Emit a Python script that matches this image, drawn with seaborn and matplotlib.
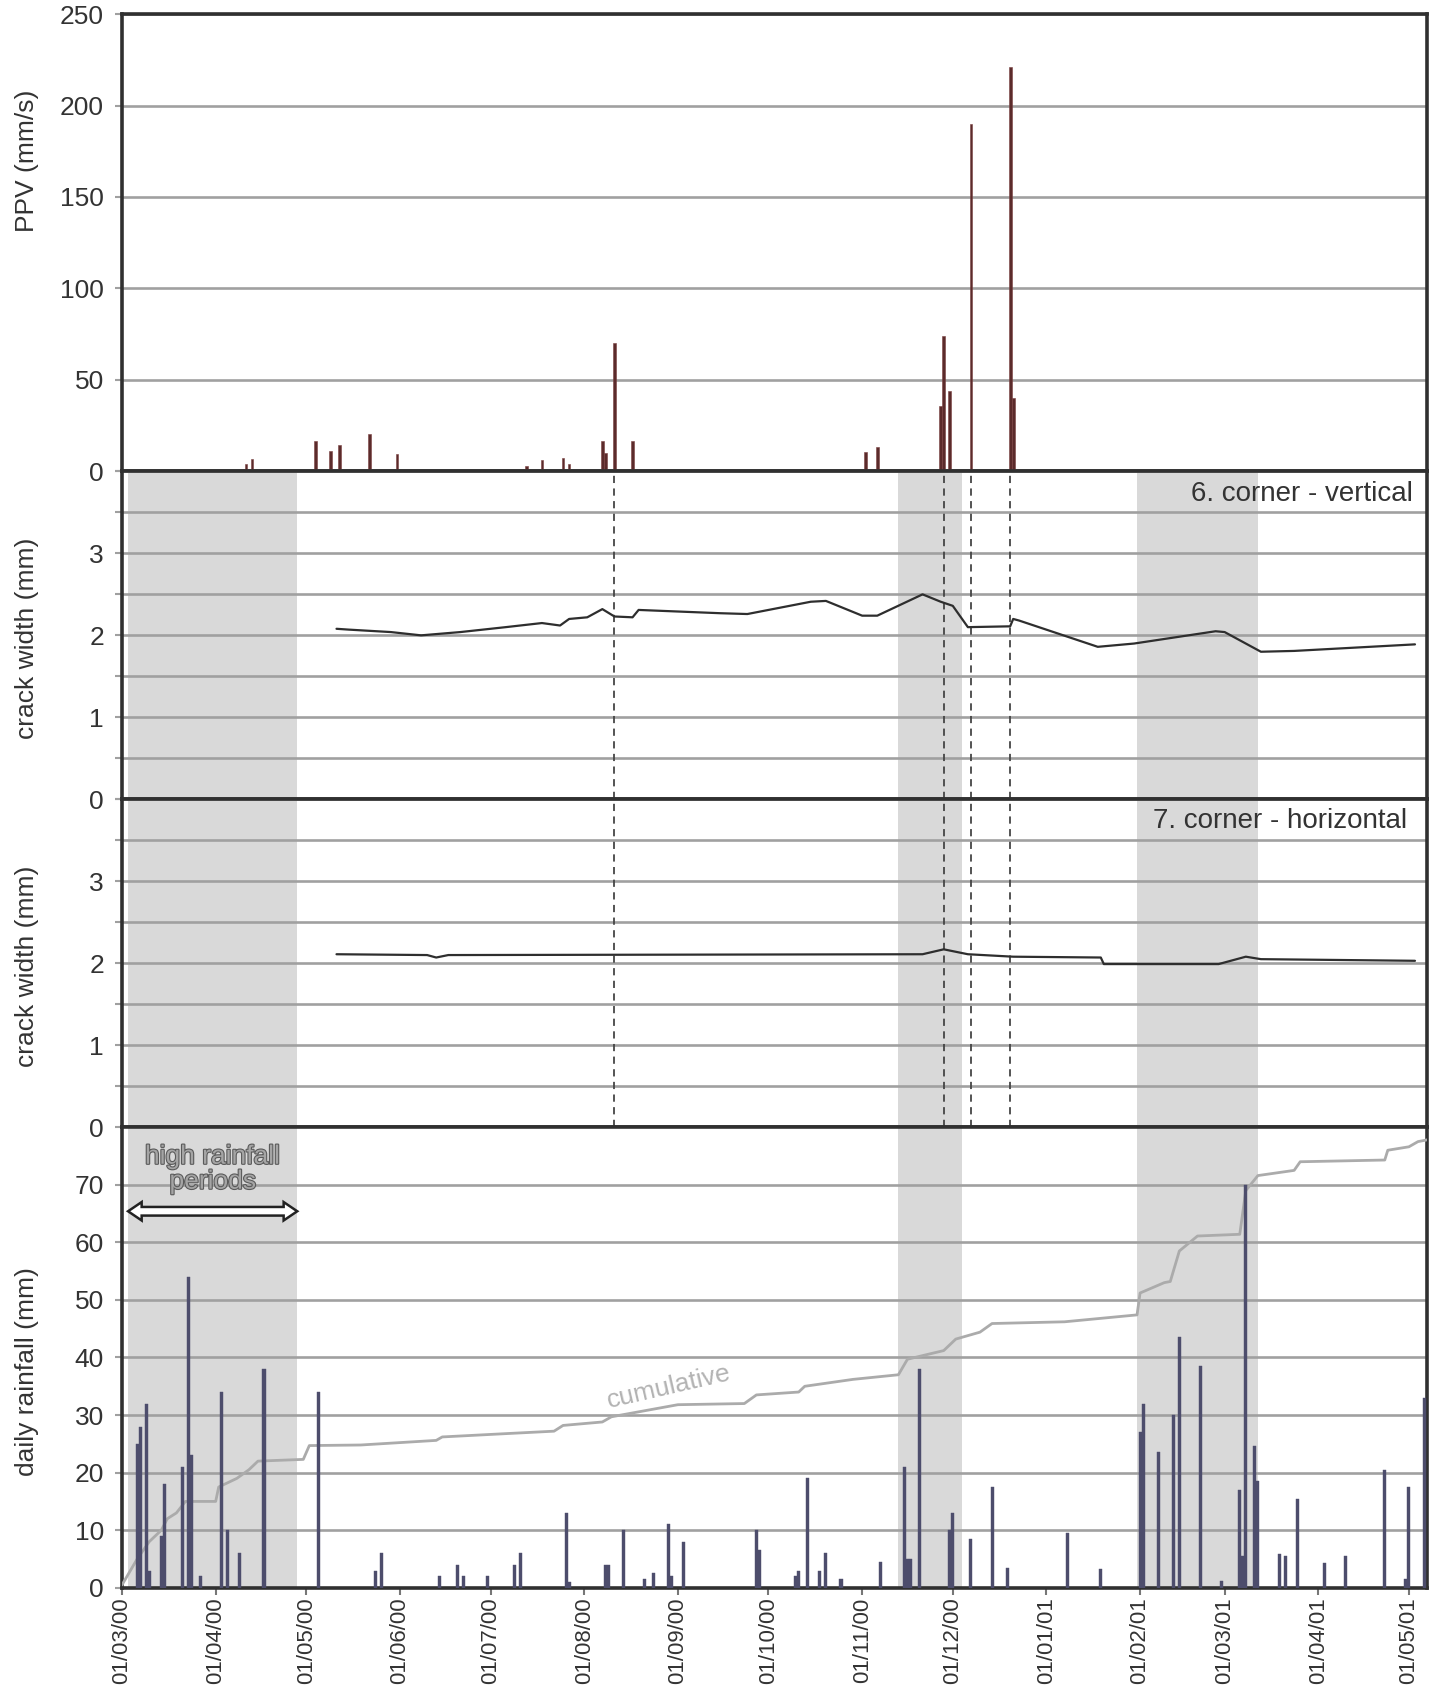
import matplotlib
matplotlib.use("Agg")
import matplotlib.pyplot as plt
import matplotlib.dates as mdates
import matplotlib.patheffects as pe
from matplotlib.patches import Polygon
from matplotlib.ticker import MultipleLocator
import pandas as pd
import seaborn as sns

# ---------------- data ----------------
ppv_dates = ['2000-04-11', '2000-04-13', '2000-05-04', '2000-05-09', '2000-05-12', '2000-05-22',
             '2000-05-31', '2000-06-14', '2000-07-13', '2000-07-18', '2000-07-25', '2000-07-27',
             '2000-08-07', '2000-08-08', '2000-08-11', '2000-08-17', '2000-11-02', '2000-11-06',
             '2000-11-27', '2000-11-28', '2000-11-30', '2000-12-07', '2000-12-20', '2000-12-21']
ppv_values = [4, 7, 16.5, 11, 14.5, 20.5, 9.5, 1, 3, 6.5, 7.5, 4,
              16.5, 10, 70, 16.5, 10.5, 13.5, 36, 74, 44, 190, 221, 40]

vertical_dates = ['2000-05-11', '2000-05-15', '2000-05-29', '2000-06-08', '2000-06-21', '2000-07-06',
                  '2000-07-18', '2000-07-24', '2000-07-27', '2000-08-02', '2000-08-07', '2000-08-11',
                  '2000-08-17', '2000-08-19', '2000-09-15', '2000-09-24', '2000-10-15', '2000-10-20',
                  '2000-11-01', '2000-11-06', '2000-11-21', '2000-11-27', '2000-12-01', '2000-12-06',
                  '2000-12-20', '2000-12-21', '2000-12-23', '2001-01-18', '2001-01-30', '2001-02-26',
                  '2001-03-01', '2001-03-13', '2001-03-24', '2001-05-03']
vertical_values = [2.08, 2.07, 2.04, 2.00, 2.04, 2.10, 2.15, 2.12, 2.20, 2.22, 2.32, 2.23,
                   2.22, 2.31, 2.27, 2.26, 2.41, 2.42, 2.24, 2.24, 2.50, 2.41, 2.36, 2.10,
                   2.11, 2.20, 2.18, 1.86, 1.90, 2.05, 2.04, 1.80, 1.81, 1.89]

horizontal_dates = ['2000-05-11', '2000-06-10', '2000-06-13', '2000-06-17', '2000-11-21', '2000-11-28',
                    '2000-12-06', '2000-12-21', '2001-01-19', '2001-01-20', '2001-02-27', '2001-03-08',
                    '2001-03-13', '2001-05-03']
horizontal_values = [2.11, 2.10, 2.07, 2.10, 2.11, 2.17, 2.11, 2.08, 2.07, 1.99, 1.99, 2.08, 2.05, 2.03]

rain_dates = ['2000-03-06', '2000-03-07', '2000-03-09', '2000-03-10', '2000-03-14', '2000-03-15',
              '2000-03-21', '2000-03-23', '2000-03-24', '2000-03-27', '2000-04-03', '2000-04-05',
              '2000-04-09', '2000-04-17', '2000-05-05', '2000-05-24', '2000-05-26', '2000-06-14',
              '2000-06-20', '2000-06-22', '2000-06-30', '2000-07-09', '2000-07-11', '2000-07-26',
              '2000-07-27', '2000-08-08', '2000-08-09', '2000-08-14', '2000-08-21', '2000-08-24',
              '2000-08-29', '2000-08-30', '2000-09-03', '2000-09-27', '2000-09-28', '2000-10-10',
              '2000-10-11', '2000-10-14', '2000-10-18', '2000-10-20', '2000-10-25', '2000-11-07',
              '2000-11-15', '2000-11-16', '2000-11-17', '2000-11-20', '2000-11-30', '2000-12-01',
              '2000-12-07', '2000-12-14', '2000-12-19', '2001-01-08', '2001-01-19', '2001-02-01',
              '2001-02-02', '2001-02-07', '2001-02-12', '2001-02-14', '2001-02-21', '2001-02-28',
              '2001-03-06', '2001-03-07', '2001-03-08', '2001-03-11', '2001-03-12', '2001-03-19',
              '2001-03-21', '2001-03-25', '2001-04-03', '2001-04-10', '2001-04-23', '2001-04-30',
              '2001-05-01', '2001-05-06']
rain_values = [25, 28, 32, 3, 9, 18,
               21, 54, 23, 2, 34, 10,
               6, 38, 34, 3, 6, 2,
               4, 2, 2, 4, 6, 13,
               1, 4, 4, 10, 1.5, 2.5,
               11, 2, 8, 10, 6.5, 2,
               3, 19, 3, 6, 1.5, 4.5,
               21, 5, 5, 38, 10, 13,
               8.5, 17.5, 3.5, 9.5, 3.2, 27,
               32, 23.5, 30, 43.5, 38.5, 1.2,
               17, 5.5, 70, 24.6, 18.5, 5.8,
               5.5, 15.5, 4.3, 5.5, 20.5, 1.5,
               17.5, 33]

cumulative_dates = ['2000-03-01', '2000-03-06', '2000-03-10', '2000-03-14', '2000-03-16', '2000-03-19',
                    '2000-03-22', '2000-04-01', '2000-04-02', '2000-04-08', '2000-04-12', '2000-04-15',
                    '2000-04-30', '2000-05-02', '2000-05-19', '2000-06-13', '2000-06-15', '2000-07-07',
                    '2000-07-22', '2000-07-25', '2000-08-07', '2000-08-10', '2000-09-01', '2000-09-23',
                    '2000-09-27', '2000-10-11', '2000-10-13', '2000-10-29', '2000-11-13', '2000-11-16',
                    '2000-11-28', '2000-12-02', '2000-12-10', '2000-12-14', '2001-01-07', '2001-01-31',
                    '2001-02-01', '2001-02-09', '2001-02-11', '2001-02-14', '2001-02-20', '2001-03-06',
                    '2001-03-08', '2001-03-12', '2001-03-24', '2001-03-26', '2001-04-23', '2001-04-24',
                    '2001-05-01', '2001-05-04', '2001-05-07']
cumulative_values = [0.5, 5, 8, 10, 12, 13,
                     15, 15, 17.5, 19, 20.5, 22,
                     22.3, 24.7, 24.8, 25.6, 26.2, 26.8,
                     27.2, 28.2, 28.8, 29.7, 31.8, 32,
                     33.5, 34, 35, 36.2, 37, 39.7,
                     41.2, 43.2, 44.4, 45.9, 46.2, 47.4,
                     51.2, 53, 53.2, 58.5, 61.1, 61.4,
                     69, 71.6, 72.5, 74, 74.3, 76,
                     76.6, 77.5, 77.8]

period_starts = ['2000-03-03', '2000-11-13', '2001-01-31']
period_ends = ['2000-04-28', '2000-12-04', '2001-03-12']
event_dates = ['2000-08-11', '2000-11-28', '2000-12-07', '2000-12-20']

x_start, x_end = '2000-03-01', '2001-05-07'
vertical_title = '6. corner - vertical'
horizontal_title = '7. corner - horizontal'

# ---------------- style ----------------
sns.set_theme(style="white")
plt.rcParams['font.family'] = ['Liberation Sans', 'DejaVu Sans']


def dnum(lst):
    return mdates.date2num(pd.to_datetime(lst))


fig = plt.figure(figsize=(14.39, 16.92), dpi=100)
L, W = 0.0848, 0.9069
ax1 = fig.add_axes([L, 0.7214, W, 0.2703])
ax2 = fig.add_axes([L, 0.5276, W, 0.1938])
ax3 = fig.add_axes([L, 0.3338, W, 0.1938])
ax4 = fig.add_axes([L, 0.0616, W, 0.2722])
axes = [ax1, ax2, ax3, ax4]

SPINE = '#303030'
GRID = '#a0a0a0'
TXT = '#333333'

xlim = (dnum([x_start])[0], dnum([x_end])[0])
for ax in axes:
    ax.set_xlim(*xlim)
    ax.set_facecolor('white')
    for s in ax.spines.values():
        s.set_visible(True)
        s.set_color(SPINE)
        s.set_linewidth(2.6)
    ax.set_axisbelow(True)
    ax.yaxis.grid(True, which='both', color=GRID, lw=1.9)
    ax.xaxis.grid(False)
    ax.tick_params(axis='y', which='both', left=True, direction='out', length=5, width=1.5,
                   color=GRID, labelsize=19, labelcolor=TXT, pad=8)
    ax.tick_params(axis='y', which='minor', labelleft=False)

# shaded high-rainfall periods
for ax in [ax2, ax3, ax4]:
    for s, e in zip(dnum(period_starts), dnum(period_ends)):
        ax.axvspan(s, e, color='#d9d9d9', lw=0, zorder=0.2)

# panel 1: PPV
ax1.bar(dnum(ppv_dates), ppv_values, width=0.9, color='#5b2b2b', edgecolor='#7a4040', lw=0.4, zorder=3)
ax1.set_ylim(0, 250)
ax1.set_yticks(range(0, 251, 50))
ax1.set_ylabel('PPV (mm/s)', fontsize=19, color=TXT)
ax1.yaxis.set_label_coords(-0.064, 0.68)

# panel 2 & 3: crack width
df_v = pd.DataFrame({'date': dnum(vertical_dates), 'width': vertical_values})
df_h = pd.DataFrame({'date': dnum(horizontal_dates), 'width': horizontal_values})
sns.lineplot(data=df_v, x='date', y='width', ax=ax2, color='#2e2e2e', lw=1.6, estimator=None, zorder=3)
sns.lineplot(data=df_h, x='date', y='width', ax=ax3, color='#2e2e2e', lw=1.6, estimator=None, zorder=3)
for ax, title in [(ax2, vertical_title), (ax3, horizontal_title)]:
    ax.set_ylim(0, 4)
    ax.set_yticks([0, 1, 2, 3])
    ax.yaxis.set_minor_locator(MultipleLocator(0.5))
    ax.set_ylabel('crack width (mm)', fontsize=19, color=TXT)
    ax.yaxis.set_label_coords(-0.064, 0.49)
    ax.set_xlabel('')
    for d in dnum(event_dates):
        ax.axvline(d, color='#454545', lw=1.3, ls=(0, (4, 3)), zorder=2.5)
ax2.text(0.989, 0.93, vertical_title, transform=ax2.transAxes, ha='right', va='center',
         fontsize=20, color=TXT)
ax3.text(0.985, 0.935, horizontal_title, transform=ax3.transAxes, ha='right', va='center',
         fontsize=20, color=TXT)

# panel 4: rainfall
ax4.bar(dnum(rain_dates), rain_values, width=1.0, color='#4d4d6c', edgecolor='#4d4d6c', lw=0.3, zorder=3)
df_c = pd.DataFrame({'date': dnum(cumulative_dates), 'cum': cumulative_values})
sns.lineplot(data=df_c, x='date', y='cum', ax=ax4, color='#ababab', lw=2.0, estimator=None, zorder=2.8)
ax4.set_ylim(0, 80)
ax4.set_yticks(range(0, 71, 10))
ax4.set_ylabel('daily rainfall (mm)', fontsize=19, color=TXT)
ax4.yaxis.set_label_coords(-0.064, 0.47)
ax4.set_xlabel('')

# annotations in panel 4
p_s, p_e = dnum(period_starts)[0], dnum(period_ends)[0]
mid = (p_s + p_e) / 2
ax4.text(mid, 72.7, 'high rainfall\nperiods', ha='center', va='center', fontsize=19,
         color='#a5a5a5', linespacing=1.05,
         path_effects=[pe.withStroke(linewidth=1.6, foreground='#5a5a5a')], zorder=5)
yc, bh, hh, hl = 65.4, 0.75, 1.6, 4.5
arrow_pts = [(p_s, yc), (p_s + hl, yc + hh), (p_s + hl, yc + bh), (p_e - hl, yc + bh),
             (p_e - hl, yc + hh), (p_e, yc), (p_e - hl, yc - hh), (p_e - hl, yc - bh),
             (p_s + hl, yc - bh), (p_s + hl, yc - hh)]
ax4.add_patch(Polygon(arrow_pts, closed=True, fc='white', ec='#222222', lw=1.8, zorder=5))
ax4.text(dnum(['2000-08-29'])[0], 34.8, 'cumulative', ha='center', va='center', rotation=13,
         fontsize=19, color='#b3b3b3', zorder=5)

# x axis
for ax in [ax1, ax2, ax3]:
    ax.tick_params(axis='x', bottom=False, labelbottom=False)
    ax.set_xlabel('')
ax4.xaxis.set_major_locator(mdates.MonthLocator(bymonthday=1))
ax4.xaxis.set_major_formatter(mdates.DateFormatter('%d/%m/%y'))
ax4.tick_params(axis='x', bottom=True, direction='out', length=5, width=1.5, color='#777777',
                labelsize=16, labelcolor=TXT, labelrotation=90, pad=2)

fig.savefig('out.png', dpi=100, facecolor='white')
